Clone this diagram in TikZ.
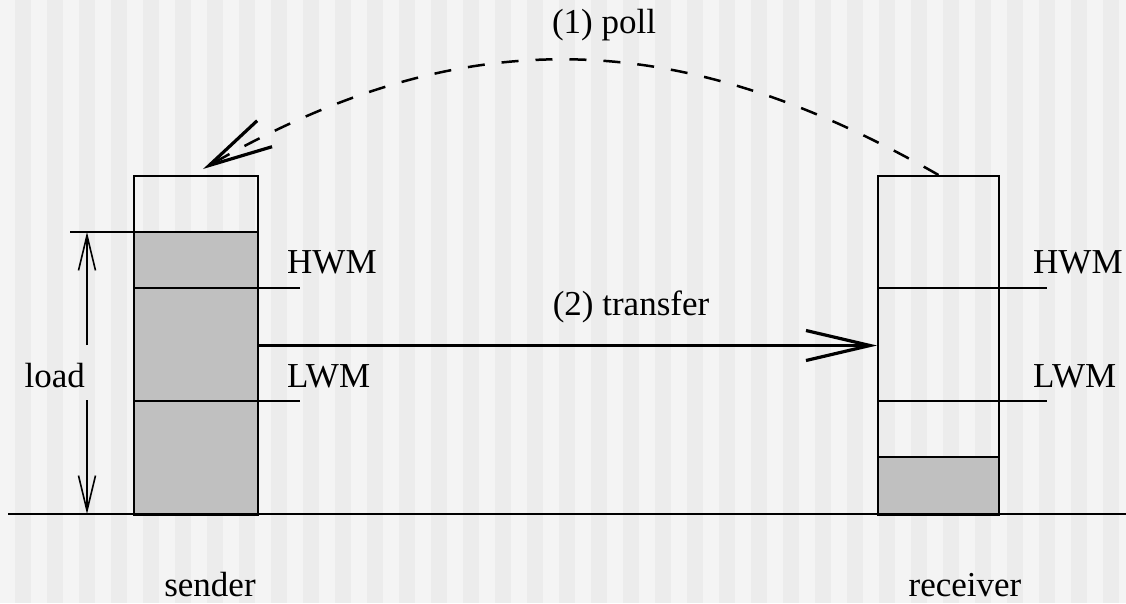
\documentclass[tikz,border=0pt]{standalone}
\usepackage{fontspec}
\setmainfont{Liberation Serif}
\newfontfamily\diagfont{Liberation Serif}
\usetikzlibrary{arrows.meta, calc}

\definecolor{stripelight}{HTML}{F4F4F4}
\definecolor{stripedark}{HTML}{ECECEC}
\definecolor{bufgray}{HTML}{C0C0C0}

\begin{document}
\begin{tikzpicture}[
    x=1pt, y=-1pt,
    buffer/.style={draw, line width=2pt, inner sep=0pt, anchor=north west},
    thinline/.style={line width=2pt},
    lbl/.style={font=\diagfont\fontsize{35}{40}\selectfont, inner sep=0pt},
    bigbarb/.style={-{Straight Barb[length=64pt, width=30pt, line width=3.2pt]}},
    smallbarb/.style={-{Straight Barb[length=35pt, width=17pt]}},
]

% =============================================================================
% Background: vertical stripes
% =============================================================================
\useasboundingbox (0,0) rectangle (1126,603);
\fill[stripelight] (0,0) rectangle (1126,603);
\foreach \k in {0, 1, ..., 34} {
    \fill[stripedark] (15+32*\k, 0) rectangle (31+32*\k, 603);
}

% =============================================================================
% Sender queue
% =============================================================================
\fill[bufgray] (133,232) rectangle (257,514);
\draw[thinline] (70,232) -- (257,232);
\draw[thinline] (133,288) -- (300,288);
\draw[thinline] (133,401) -- (300,401);
\node[buffer, minimum width=124pt, minimum height=339pt] (sendbox) at (133,175) {};

\node[lbl, anchor=base west] (sendhwm) at (287,273) {HWM};
\node[lbl, anchor=base west] (sendlwm) at (287,387) {LWM};
\node[lbl, anchor=base] (sendlbl) at (210,596) {sender};

% Load indicator
\node[lbl, anchor=base east] (loadlbl) at (85,387) {load};
\coordinate (loadtop) at (87,232);
\coordinate (loadbot) at (87,514);
\coordinate (loadgapa) at (87,345);
\coordinate (loadgapb) at (87,400);
\draw[line width=1.6pt, smallbarb] (loadgapa) -- (loadtop);
\draw[line width=1.6pt, smallbarb] (loadgapb) -- (loadbot);

% =============================================================================
% Receiver queue
% =============================================================================
\fill[bufgray] (877,457) rectangle (998,514);
\draw[thinline] (877,457) -- (998,457);
\draw[thinline] (877,288) -- (1047,288);
\draw[thinline] (877,401) -- (1047,401);
\node[buffer, minimum width=121pt, minimum height=339pt] (recvbox) at (877,175) {};

\node[lbl, anchor=base west] (recvhwm) at (1033,273) {HWM};
\node[lbl, anchor=base west] (recvlwm) at (1033,387) {LWM};
\node[lbl, anchor=base] (recvlbl) at (965,596) {receiver};

% Ground line
\draw[thinline] (8,514) -- (1126,514);

% =============================================================================
% Messages
% =============================================================================
% (1) poll: dashed arc from receiver back to sender
\coordinate (polltip) at ($(sendbox.north)+(7,-6)$);
\draw[line width=2.5pt, dash pattern=on 17pt off 17pt, bigbarb]
    (recvbox.north) .. controls (677,25) and (463,20) .. (polltip);
\node[lbl, anchor=base] (polllbl) at (604,33) {(1) poll};

% (2) transfer: solid arrow from sender to receiver
\draw[line width=3pt, bigbarb] (sendbox.east) -- (recvbox.west);
\node[lbl, anchor=base] (transferlbl) at (631,315) {(2) transfer};

\end{tikzpicture}
\end{document}
